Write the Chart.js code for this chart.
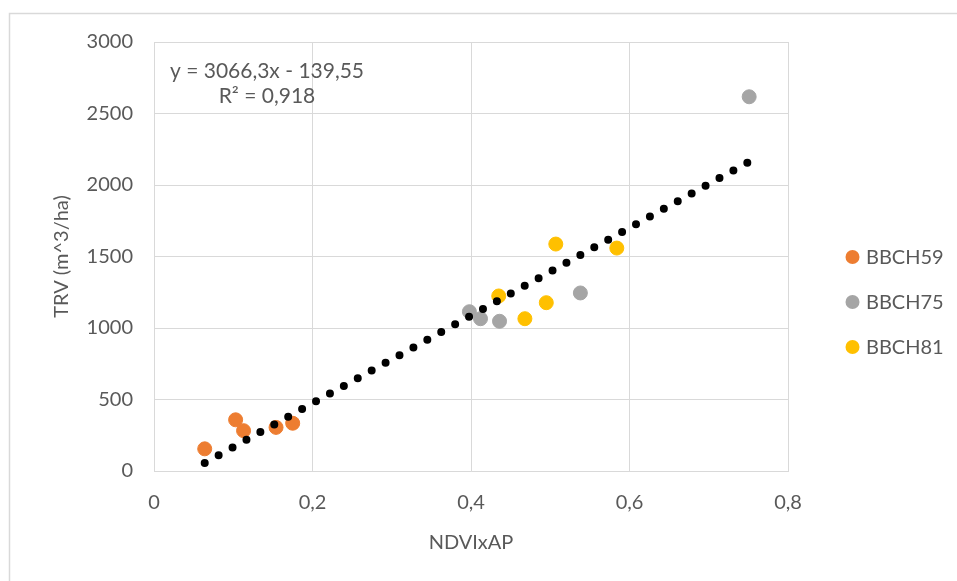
<!DOCTYPE html>
<html>
<head>
<meta charset="utf-8">
<title>TRV vs NDVIxAP</title>
<script src="https://cdn.jsdelivr.net/npm/chart.js@4.4.1/dist/chart.umd.min.js"></script>
<style>
  html, body { margin: 0; padding: 0; background: #fff; overflow: hidden; }
  #wrap { position: relative; width: 957px; height: 581px; }
</style>
</head>
<body>
<div id="wrap"><canvas id="trvChart"></canvas></div>
<script>
const seriesNames = ["BBCH59", "BBCH75", "BBCH81"];
const seriesColors = ["#ED7D31", "#A5A5A5", "#FFC000"];

const ndviBBCH59 = [0.064, 0.103, 0.113, 0.154, 0.175];
const trvBBCH59 = [155, 358, 282, 305, 334];
const ndviBBCH75 = [0.398, 0.412, 0.436, 0.538, 0.751];
const trvBBCH75 = [1114, 1065, 1047, 1245, 2617];
const ndviBBCH81 = [0.435, 0.468, 0.495, 0.507, 0.584];
const trvBBCH81 = [1224, 1065, 1177, 1587, 1559];

// linear trend over all points
const slope = 3066.3;
const intercept = -139.55;
const rSquared = 0.918;

const xMin = 0, xMax = 0.8, xStep = 0.2;
const yMin = 0, yMax = 3000, yStep = 500;

const textColor = "#595959";
const gridColor = "#D9D9D9";

Chart.defaults.font.family = "Lato, 'Open Sans', sans-serif";
Chart.defaults.font.size = 20;
Chart.defaults.color = textColor;

function toPoints(xs, ys) {
    return xs.map((x, i) => ({ x: x, y: ys[i] }));
}

function withComma(v) {
    return String(v).replace(".", ",");
}

function tickLabel(v) {
    return withComma(Math.round(v * 100) / 100);
}

const allX = ndviBBCH59.concat(ndviBBCH75, ndviBBCH81);
const trendStart = Math.min(...allX);
const trendEnd = Math.max(...allX);
const trendPoints = [
    { x: trendStart, y: slope * trendStart + intercept },
    { x: trendEnd, y: slope * trendEnd + intercept }
];

const groups = [
    toPoints(ndviBBCH59, trvBBCH59),
    toPoints(ndviBBCH75, trvBBCH75),
    toPoints(ndviBBCH81, trvBBCH81)
];

const datasets = groups.map((pts, i) => ({
    label: seriesNames[i],
    data: pts,
    backgroundColor: seriesColors[i],
    borderColor: seriesColors[i],
    borderWidth: 1,
    pointRadius: 7,
    order: 1
}));

datasets.push({
    type: "line",
    label: "Trend",
    data: trendPoints,
    borderColor: "#000000",
    borderWidth: 8,
    borderDash: [0, 15.9],
    borderCapStyle: "round",
    pointRadius: 0,
    fill: false,
    order: 0
});

// outer frame, regression label and right-hand legend
const decorations = {
    id: "decorations",
    beforeDraw(chart) {
        const ctx = chart.ctx;
        ctx.save();
        ctx.strokeStyle = gridColor;
        ctx.lineWidth = 1.5;
        ctx.strokeRect(9.5, 13.5, 1200, 1200);
        ctx.restore();
    },
    afterDraw(chart) {
        const ctx = chart.ctx;
        const area = chart.chartArea;
        const labelX = area.left + 113;
        ctx.save();
        ctx.fillStyle = textColor;
        ctx.font = "21px Lato, 'Open Sans', sans-serif";
        ctx.textAlign = "center";
        ctx.textBaseline = "middle";
        ctx.fillText("y = " + withComma(slope) + "x - " + withComma(Math.abs(intercept)),
            labelX, area.top + 29);
        ctx.fillText("R² = " + withComma(rSquared), labelX, area.top + 54);

        ctx.font = "20px Lato, 'Open Sans', sans-serif";
        ctx.textAlign = "left";
        seriesNames.forEach((name, i) => {
            const cy = 257 + i * 45;
            ctx.beginPath();
            ctx.arc(852.5, cy, 7, 0, Math.PI * 2);
            ctx.fillStyle = seriesColors[i];
            ctx.fill();
            ctx.fillStyle = textColor;
            ctx.fillText(name, 866, cy + 1);
        });
        ctx.restore();
    }
};

new Chart(document.getElementById("trvChart").getContext("2d"), {
    type: "scatter",
    data: { datasets: datasets },
    options: {
        responsive: true,
        maintainAspectRatio: false,
        animation: false,
        layout: { padding: { left: 0, top: 42, right: 169, bottom: 0 } },
        plugins: {
            legend: { display: false },
            tooltip: { enabled: false }
        },
        scales: {
            x: {
                type: "linear",
                min: xMin,
                max: xMax,
                afterFit(scale) { scale.height = 110; },
                grid: { color: gridColor, lineWidth: 1, drawTicks: false },
                border: { color: gridColor },
                ticks: {
                    stepSize: xStep,
                    padding: 20,
                    color: textColor,
                    callback: (v) => tickLabel(v)
                },
                title: {
                    display: true,
                    text: "NDVIxAP",
                    color: textColor,
                    font: { size: 20 },
                    padding: { top: 0, bottom: 26 }
                }
            },
            y: {
                type: "linear",
                min: yMin,
                max: yMax,
                afterFit(scale) { scale.width = 154; },
                grid: { color: gridColor, lineWidth: 1, drawTicks: false },
                border: { color: gridColor },
                ticks: {
                    stepSize: yStep,
                    padding: 21,
                    color: textColor,
                    callback: (v) => String(v)
                },
                title: {
                    display: true,
                    text: "TRV (m^3/ha)",
                    color: textColor,
                    font: { size: 20 },
                    padding: { top: 50, bottom: 0 }
                }
            }
        }
    },
    plugins: [decorations]
});
</script>
</body>
</html>
